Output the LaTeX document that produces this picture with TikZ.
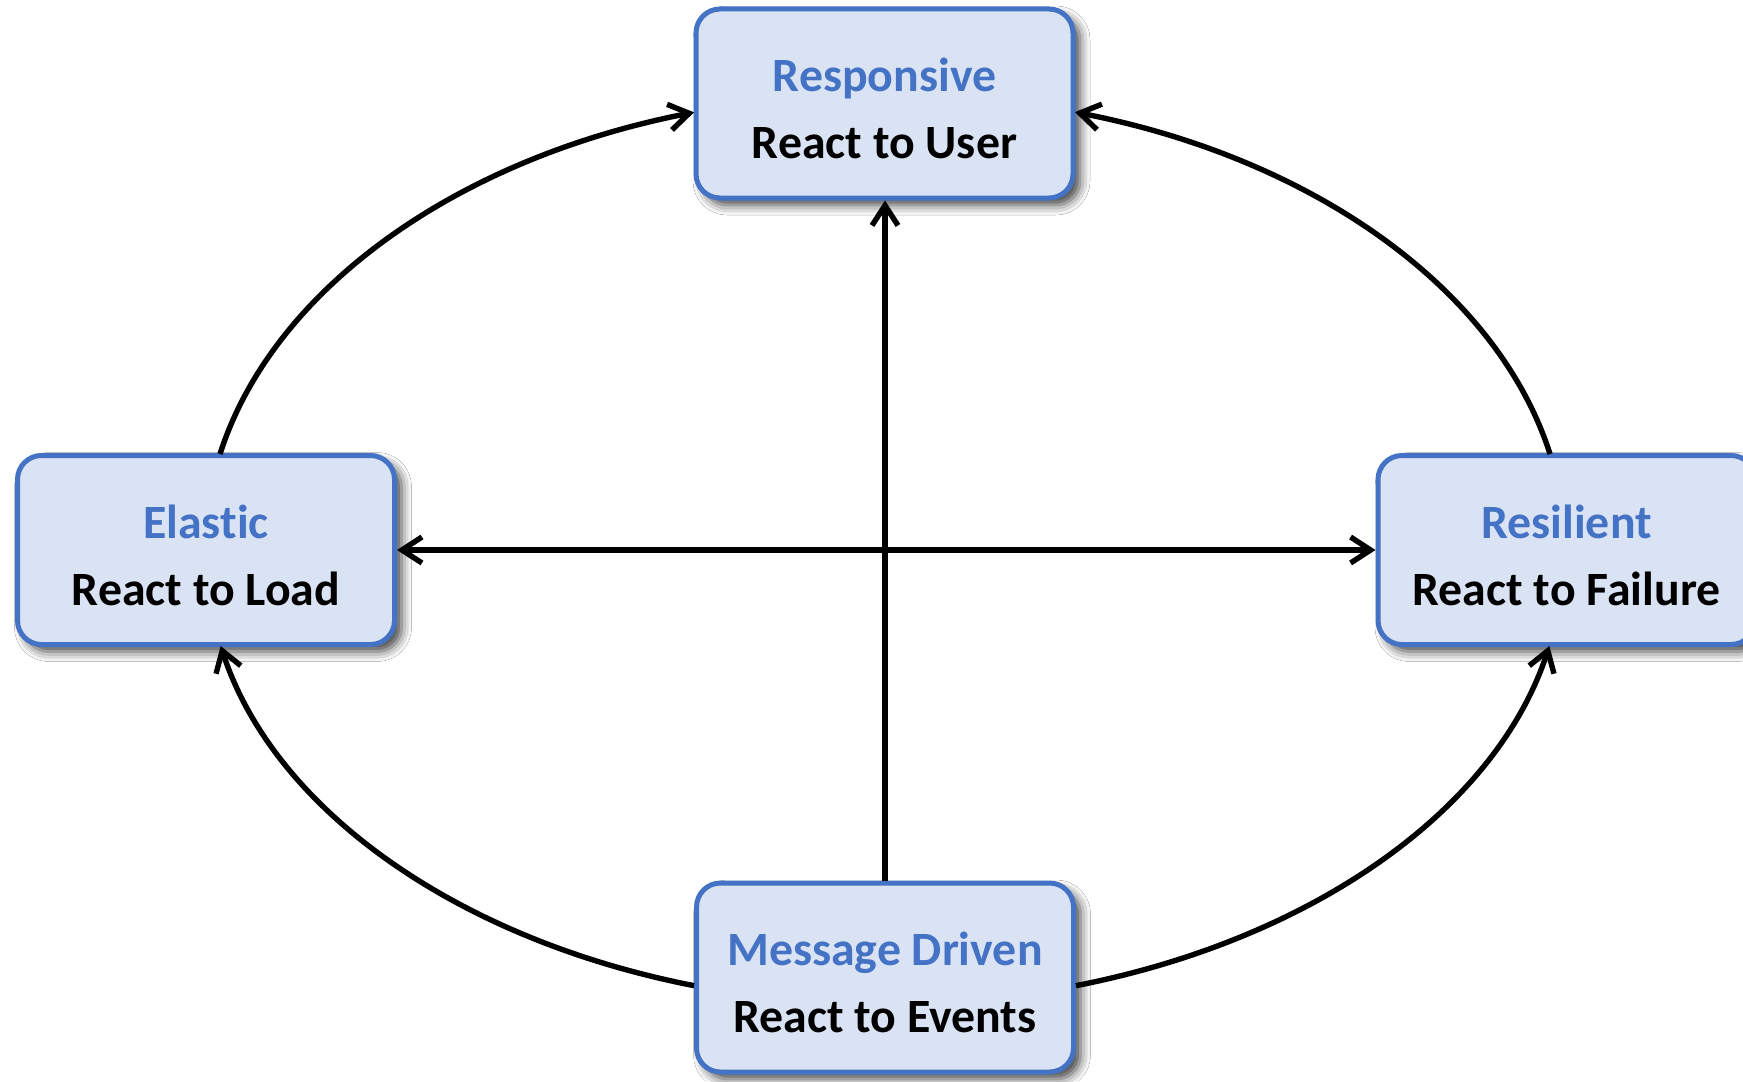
\documentclass[tikz,border=0pt]{standalone}
\usepackage{fontspec}
\setmainfont{Carlito}[Ligatures=NoCommon]
\usetikzlibrary{arrows.meta,calc,shadows.blur}

\definecolor{boxline}{HTML}{4472C4}
\definecolor{boxfill}{HTML}{DAE3F3}
\definecolor{headcol}{HTML}{4472C4}

\tikzset{
  trait/.style={
    rectangle, rounded corners=12pt, draw=boxline, line width=2.5pt, fill=boxfill,
    minimum width=188.5pt, minimum height=94.5pt, inner sep=0pt,
    align=center, font=\fontsize{23.9pt}{33.5pt}\selectfont\bfseries,
    text height=56pt, text depth=1pt,
    blur shadow={shadow xshift=3.5pt, shadow yshift=-3.5pt,
                 shadow blur radius=5pt, shadow opacity=75}
  },
  tip/.tip={Straight Barb[length=10pt,width=13pt]},
  link/.style={draw=black, line width=2.7pt, -tip},
  both/.style={draw=black, line width=2.7pt, tip-tip},
}
\newcommand{\heading}[1]{\textcolor{headcol}{#1}}

\begin{document}
\begin{tikzpicture}[x=0.5pt, y=0.5pt]
  \useasboundingbox (0,0) rectangle (1743,-1081);
  \fill[white] (0,0) rectangle (1743,-1081);

  % the four traits
  \node[trait] (resp) at (884.5,-103.5) {\heading{Responsive}\\React to User};
  \node[trait] (elas) at (206,-550)     {\heading{Elastic}\\React to Load};
  \node[trait] (resi) at (1566.5,-550)  {\heading{Resilient}\\React to Failure};
  \node[trait] (msg)  at (885,-977.5)   {\heading{Message Driven}\\React to Events};

  % the curved links follow one ellipse around the centre
  \coordinate (c) at (885,-549);
  \coordinate (elas-up)   at ($(c)+(167.95:680 and 455)$);
  \coordinate (resi-up)   at ($(c)+(12.05:680 and 455)$);
  \coordinate (msg-left)  at ($(c)+(253.69:680 and 455)$);
  \coordinate (msg-right) at ($(c)+(286.31:680 and 455)$);

  \draw[link] (elas-up)   arc[start angle=167.95, end angle=106.31, x radius=680, y radius=455];
  \draw[link] (resi-up)   arc[start angle=12.05,  end angle=73.78,  x radius=680, y radius=455];
  \draw[link] (msg-left)  arc[start angle=253.69, end angle=192.31, x radius=680, y radius=455];
  \draw[link] (msg-right) arc[start angle=286.31, end angle=347.69, x radius=680, y radius=455];

  % straight links through the centre
  \draw[link] (msg.north) -- (msg.north |- resp.south);
  \draw[both] (elas.east) -- (resi.west);
\end{tikzpicture}
\end{document}
